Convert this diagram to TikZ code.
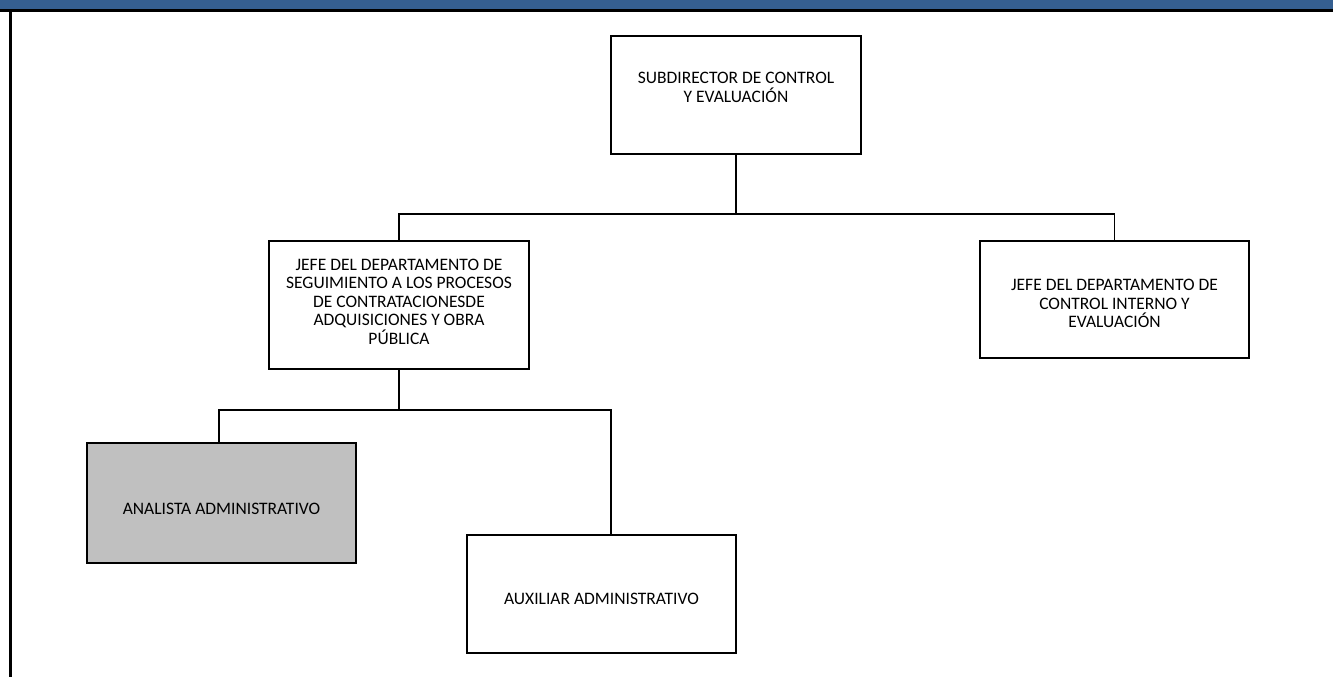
\documentclass[tikz,border=0pt]{standalone}
\usepackage{fontspec}
\setmainfont{Carlito}
\definecolor{hdrblue}{HTML}{355F91}
\definecolor{boxgray}{HTML}{C0C0C0}
\begin{document}
\begin{tikzpicture}[x=1pt,y=-1pt,
  orgbox/.style={draw=black,line width=1.8pt,fill=white,minimum width=#1,inner sep=0pt,align=center,font=\fontsize{17.5}{18.5}\selectfont},
  link/.style={draw=black,line width=1.8pt}]
\useasboundingbox (0,0) rectangle (1333,677);
\fill[hdrblue] (0,0) rectangle (1333,9);
\draw[line width=3pt] (0,10.5) -- (1333,10.5);
\draw[line width=3pt] (10,10) -- (10,677);
% boxes
\node[orgbox=250pt,minimum height=118pt] (sub) at (736,95) {SUBDIRECTOR DE CONTROL\\Y EVALUACIÓN\\[-3pt]\mbox{}};
\node[orgbox=260pt,minimum height=128pt] (seg) at (399,305) {JEFE DEL DEPARTAMENTO DE\\SEGUIMIENTO A LOS PROCESOS\\DE CONTRATACIONESDE\\ADQUISICIONES Y OBRA\\PÚBLICA\\[-12pt]\mbox{}};
\node[orgbox=269pt,minimum height=117pt] (ctl) at (1114.5,299.5) {\mbox{}\\[1.5pt]JEFE DEL DEPARTAMENTO DE\\CONTROL INTERNO Y\\EVALUACIÓN};
\node[orgbox=269pt,minimum height=120pt,fill=boxgray] (ana) at (221.5,503) {\mbox{}\\[5pt]ANALISTA ADMINISTRATIVO};
\node[orgbox=269pt,minimum height=118pt] (aux) at (601.5,594) {\mbox{}\\[3pt]AUXILIAR ADMINISTRATIVO};
% connectors
\coordinate (j1) at (736,214);
\coordinate (j2) at (399,410);
\draw[link] (sub.south) -- (j1);
\draw[link] (seg.north) |- (j1) -| (ctl.north);
\draw[link] (seg.south) -- (j2);
\draw[link] (ana.north -| 219,0) |- (j2) -| (611,0 |- aux.north);
\end{tikzpicture}
\end{document}
